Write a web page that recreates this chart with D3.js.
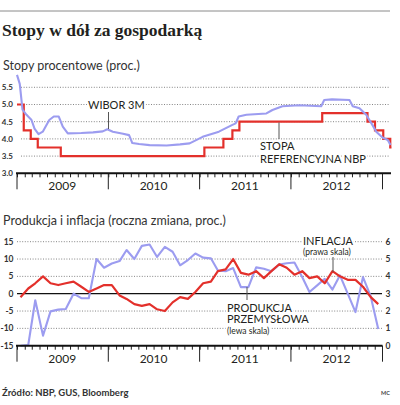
<!DOCTYPE html>
<html>
<head>
<meta charset="utf-8">
<script src="https://cdn.jsdelivr.net/npm/d3@7/dist/d3.min.js"></script>
<style>
  body { margin: 0; background: #fff; }
  text { font-family: Lato, "Open Sans", sans-serif; fill: #231f20; }
</style>
</head>
<body>
<script>
// ---- data ----
let yearLabels = ["2009", "2010", "2011", "2012"];
let topTicks = [3.0, 3.5, 4.0, 4.5, 5.0, 5.5];
let leftTicks = [-15, -10, -5, 0, 5, 10, 15];
let rightTicks = [0, 1, 2, 3, 4, 5, 6];

// NBP reference rate (step changes)
let refDates = ["2009-01-01", "2009-01-28", "2009-02-25", "2009-03-25", "2009-06-25",
  "2011-01-20", "2011-04-06", "2011-05-12", "2011-06-09", "2012-05-05",
  "2012-11-02", "2012-12-02", "2013-01-04", "2013-02-01", "2013-02-06"];
let refValues = [5.0, 4.25, 4.0, 3.75, 3.5, 3.75, 4.0, 4.25, 4.5, 4.75, 4.5, 4.25, 4.0, 3.75, 3.75];

// WIBOR 3M
let wiborDates = ["2009-01-01", "2009-01-12", "2009-01-23", "2009-02-08", "2009-02-28", "2009-03-12",
  "2009-03-28", "2009-04-14", "2009-05-10", "2009-05-28", "2009-06-17", "2009-07-03", "2009-07-23",
  "2009-09-15", "2009-11-01", "2009-12-10", "2009-12-28", "2010-01-19", "2010-03-01", "2010-03-25",
  "2010-04-07", "2010-05-04", "2010-06-15", "2010-08-22", "2010-10-15", "2010-11-22", "2011-01-13",
  "2011-03-19", "2011-05-10", "2011-05-25", "2011-06-06", "2011-07-07", "2011-09-25", "2011-10-19",
  "2011-11-28", "2012-02-03", "2012-05-01", "2012-05-13", "2012-06-13", "2012-08-22", "2012-09-04",
  "2012-10-01", "2012-10-28", "2012-11-22", "2012-12-07", "2013-01-01", "2013-01-22", "2013-02-02"];
let wiborValues = [5.86, 5.6, 4.85, 4.7, 4.55, 4.3,
  4.14, 4.21, 4.55, 4.65, 4.65, 4.36, 4.16,
  4.17, 4.19, 4.22, 4.28, 4.21, 4.15, 4.11,
  3.88, 3.85, 3.82, 3.81, 3.84, 3.87, 4.06,
  4.21, 4.40, 4.45, 4.65, 4.70, 4.74, 4.84,
  4.95, 4.98, 4.95, 5.13, 5.15, 5.13, 4.95,
  4.89, 4.70, 4.40, 4.21, 4.04, 3.97, 3.82];

// monthly: industrial production (left scale) and CPI inflation (right scale)
let months = [
  "2009-01", "2009-02", "2009-03", "2009-04", "2009-05", "2009-06", "2009-07", "2009-08", "2009-09", "2009-10", "2009-11", "2009-12",
  "2010-01", "2010-02", "2010-03", "2010-04", "2010-05", "2010-06", "2010-07", "2010-08", "2010-09", "2010-10", "2010-11", "2010-12",
  "2011-01", "2011-02", "2011-03", "2011-04", "2011-05", "2011-06", "2011-07", "2011-08", "2011-09", "2011-10", "2011-11", "2011-12",
  "2012-01", "2012-02", "2012-03", "2012-04", "2012-05", "2012-06", "2012-07", "2012-08", "2012-09", "2012-10", "2012-11", "2012-12"];
let prodValues = [
  -15.0, -14.8, -1.9, -12.1, -5.1, -4.6, -4.4, 0.0, -1.3, -1.3, 10.0, 7.5,
  8.7, 9.4, 12.6, 10.0, 13.8, 14.2, 10.6, 13.5, 12.1, 8.2, 9.7, 11.6,
  10.4, 10.2, 6.7, 6.5, 7.4, 1.9, 1.9, 7.6, 7.2, 6.5, 8.4, 8.8,
  9.0, 4.8, 0.5, 2.4, 4.3, 1.2, 5.3, 0.0, -5.3, 4.8, -0.8, -10.2];
let inflValues = [
  2.8, 3.3, 3.6, 4.0, 3.6, 3.5, 3.6, 3.7, 3.4, 3.1, 3.3, 3.5,
  3.5, 2.9, 2.7, 2.4, 2.3, 2.4, 2.1, 2.0, 2.5, 2.8, 2.7, 3.1,
  3.6, 3.7, 4.3, 4.4, 5.0, 4.2, 4.1, 4.3, 3.9, 4.3, 4.7, 4.5,
  4.1, 4.3, 3.9, 4.0, 3.6, 4.3, 4.0, 3.8, 3.8, 3.4, 2.8, 2.4];

let lavender = "#9c9cf0",
    red = "#e3302b";

let parseDay = d3.timeParse("%Y-%m-%d"),
    parseMonth = (s) => d3.timeDay.offset(d3.timeParse("%Y-%m")(s), 14);

let refData = refDates.map((d, i) => ({ date: parseDay(d), v: refValues[i] }));
let wiborData = wiborDates.map((d, i) => ({ date: parseDay(d), v: wiborValues[i] }));
let prodData = months.map((m, i) => ({ date: parseMonth(m), v: prodValues[i] }));
let inflData = months.map((m, i) => ({ date: parseMonth(m), v: inflValues[i] }));

let svg = d3.select("body").append("svg")
    .attr("width", 400)
    .attr("height", 405);

// shared time scale
let x = d3.scaleTime()
    .domain([new Date(2009, 0, 1), new Date(2013, 0, 1)])
    .range([17, 382.5]);

let yearStarts = yearLabels.map((y) => new Date(+y, 0, 1)).concat([new Date(2013, 0, 1)]);
let monthTicks = d3.timeMonth.range(new Date(2009, 0, 1), new Date(2013, 0, 1));

// header
svg.append("line")
    .attr("x1", 0).attr("x2", 390).attr("y1", 11).attr("y2", 11)
    .attr("stroke", "#8a8a8a").attr("stroke-width", 1);

svg.append("text")
    .attr("x", 2).attr("y", 36)
    .style("font-family", "'Liberation Serif', serif")
    .style("font-weight", "bold")
    .style("font-size", "17.5px")
    .text("Stopy w dół za gospodarką");

svg.append("text")
    .attr("x", 3).attr("y", 70)
    .style("font-size", "12.5px")
    .style("fill", "#333")
    .text("Stopy procentowe (proc.)");

svg.append("text")
    .attr("x", 3).attr("y", 225)
    .style("font-size", "12.5px")
    .style("fill", "#333")
    .text("Produkcja i inflacja (roczna zmiana, proc.)");

// time axis helper
function timeAxis(y0, xEnd) {
  let g = svg.append("g");
  g.append("g")
      .attr("transform", "translate(0," + y0 + ")")
      .call(d3.axisBottom(x).tickValues(monthTicks).tickSize(4).tickFormat(""))
      .call((a) => a.select(".domain").remove())
      .call((a) => a.selectAll(".tick line").attr("stroke", "#222").attr("stroke-width", 1));
  g.selectAll(".year-tick")
      .data(yearStarts)
      .enter().append("line")
      .attr("x1", (d) => x(d)).attr("x2", (d) => x(d))
      .attr("y1", y0).attr("y2", y0 + 16)
      .attr("stroke", "#222").attr("stroke-width", 1);
  g.append("line")
      .attr("x1", 16).attr("x2", xEnd).attr("y1", y0).attr("y2", y0)
      .attr("stroke", "#111").attr("stroke-width", 2);
  g.selectAll(".year-label")
      .data(yearLabels)
      .enter().append("text")
      .attr("x", (d) => x(new Date(+d, 6, 1)))
      .attr("y", y0 + 17)
      .attr("text-anchor", "middle")
      .style("font-size", "12px")
      .text((d) => d);
}

function halo(sel) {
  return sel.style("stroke", "#fff").style("stroke-width", 4)
      .style("paint-order", "stroke").style("stroke-linejoin", "round");
}

// ---- top panel: interest rates ----
let yTop = d3.scaleLinear().domain([3, 5.5]).range([173.3, 87.3]);

svg.append("g").selectAll("line")
    .data(topTicks.filter((d) => d > 3))
    .enter().append("line")
    .attr("x1", 21).attr("x2", 390)
    .attr("y1", (d) => yTop(d)).attr("y2", (d) => yTop(d))
    .attr("stroke", "#777").attr("stroke-width", 0.9)
    .attr("stroke-dasharray", "1,1.6");

svg.append("g").selectAll("text")
    .data(topTicks)
    .enter().append("text")
    .attr("x", 13).attr("y", (d) => yTop(d))
    .attr("dy", "0.35em")
    .attr("text-anchor", "end")
    .style("font-size", "8px").style("font-weight", "bold").style("fill", "#333")
    .text((d) => d3.format(".1f")(d));

let refLine = d3.line()
    .x((d) => x(d.date)).y((d) => yTop(d.v))
    .curve(d3.curveStepAfter);

let wiborLine = d3.line()
    .x((d) => x(d.date)).y((d) => yTop(d.v));

svg.append("path")
    .datum(refData)
    .attr("d", refLine)
    .attr("fill", "none").attr("stroke", red).attr("stroke-width", 2.2);

svg.append("path")
    .datum(wiborData)
    .attr("d", wiborLine)
    .attr("fill", "none").attr("stroke", lavender).attr("stroke-width", 2.1)
    .attr("stroke-linejoin", "round");

timeAxis(173.3, 391);

// top annotations
halo(svg.append("text").attr("x", 88).attr("y", 108.5)
    .style("font-size", "11px").text("WIBOR 3M"));
svg.append("line").attr("x1", 108.5).attr("x2", 108.5).attr("y1", 112).attr("y2", 129)
    .attr("stroke", "#555").attr("stroke-width", 1);

halo(svg.append("text").attr("x", 260).attr("y", 150)
    .style("font-size", "11px").text("STOPA"));
halo(svg.append("text").attr("x", 260).attr("y", 163)
    .style("font-size", "11px").text("REFERENCYJNA NBP"));
svg.append("line").attr("x1", 279).attr("x2", 279).attr("y1", 122.5).attr("y2", 139)
    .attr("stroke", "#555").attr("stroke-width", 1);

// ---- bottom panel: production and inflation ----
let yL = d3.scaleLinear().domain([-15, 15]).range([345.7, 241.7]);
let yR = d3.scaleLinear().domain([0, 6]).range([345.7, 241.7]);

svg.append("g").selectAll("line")
    .data(leftTicks.filter((d) => d !== 0 && d !== -15))
    .enter().append("line")
    .attr("x1", 17).attr("x2", 382)
    .attr("y1", (d) => yL(d)).attr("y2", (d) => yL(d))
    .attr("stroke", "#777").attr("stroke-width", 0.9)
    .attr("stroke-dasharray", "1,1.6");

svg.append("line")
    .attr("x1", 17).attr("x2", 382).attr("y1", yL(0)).attr("y2", yL(0))
    .attr("stroke", "#111").attr("stroke-width", 1.3);

svg.append("g").selectAll("text")
    .data(leftTicks)
    .enter().append("text")
    .attr("x", 13.5).attr("y", (d) => yL(d))
    .attr("dy", "0.35em")
    .attr("text-anchor", "end")
    .style("font-size", "8.5px").style("font-weight", "bold").style("fill", "#333")
    .text((d) => d);

svg.append("g").selectAll("text")
    .data(rightTicks)
    .enter().append("text")
    .attr("x", 385.5).attr("y", (d) => yR(d))
    .attr("dy", "0.35em")
    .style("font-size", "8.5px").style("font-weight", "bold").style("fill", "#333")
    .text((d) => d);

svg.append("path")
    .datum(prodData)
    .attr("d", d3.line().x((d) => x(d.date)).y((d) => yL(d.v)))
    .attr("fill", "none").attr("stroke", lavender).attr("stroke-width", 2.1)
    .attr("stroke-linejoin", "round");

svg.append("path")
    .datum(inflData)
    .attr("d", d3.line().x((d) => x(d.date)).y((d) => yR(d.v)))
    .attr("fill", "none").attr("stroke", red).attr("stroke-width", 2.2)
    .attr("stroke-linejoin", "round");

timeAxis(345.7, 382.5);

// bottom annotations
halo(svg.append("text").attr("x", 303).attr("y", 245)
    .style("font-size", "11px").text("INFLACJA"));
halo(svg.append("text").attr("x", 303).attr("y", 255)
    .style("font-size", "8.5px").text("(prawa skala)"));
svg.append("line").attr("x1", 333).attr("x2", 333).attr("y1", 257).attr("y2", 272)
    .attr("stroke", "#555").attr("stroke-width", 1);

halo(svg.append("text").attr("x", 227).attr("y", 311.5)
    .style("font-size", "11px").text("PRODUKCJA"));
halo(svg.append("text").attr("x", 227).attr("y", 323)
    .style("font-size", "11px").text("PRZEMYSŁOWA"));
halo(svg.append("text").attr("x", 227).attr("y", 333.5)
    .style("font-size", "8.5px").text("(lewa skala)"));
svg.append("line").attr("x1", 247).attr("x2", 247).attr("y1", 287).attr("y2", 300)
    .attr("stroke", "#555").attr("stroke-width", 1);

// footer
svg.append("text")
    .attr("x", 2).attr("y", 396)
    .style("font-size", "9.5px").style("font-weight", "bold").style("fill", "#333")
    .text("Źródło: NBP, GUS, Bloomberg");

svg.append("text")
    .attr("x", 381).attr("y", 395)
    .style("font-size", "5.5px").style("font-weight", "bold").style("fill", "#444")
    .text("MC");
</script>
</body>
</html>
